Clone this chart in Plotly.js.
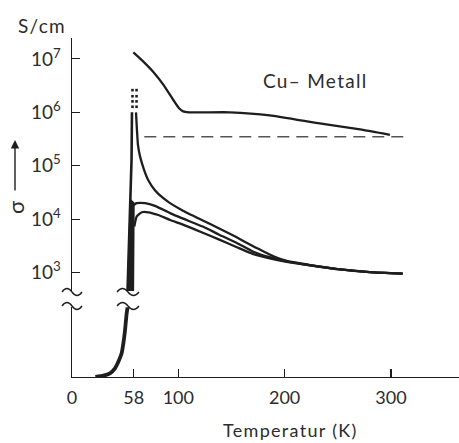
<!DOCTYPE html>
<html>
<head>
<meta charset="utf-8">
<script src="https://cdn.plot.ly/plotly-3.0.1.min.js"></script>
<style>
html,body{margin:0;padding:0;background:#fff;}
#chart{width:459px;height:443px;}
text.annotation-text{letter-spacing:1.3px;}
</style>
</head>
<body>
<div id="chart"></div>
<script>
// ---- data (temperature in K, conductivity in S/cm) ----
const xTickVals = [0, 58, 100, 200, 300];
const xTickText = ['0', '58', '100', '200', '300'];
const yTickVals = [1e3, 1e4, 1e5, 1e6, 1e7];
const yTickText = ['10<sup>3</sup>', '10<sup>4</sup>', '10<sup>5</sup>', '10<sup>6</sup>', '10<sup>7</sup>'];

const cuT = [57.7, 67.1, 76.5, 85.9, 95.3, 100.5, 104.5, 110, 148.6, 186, 233, 271, 299];
const cuSigma = [1.32e7, 8.9e6, 5.7e6, 3.3e6, 1.7e6, 1.2e6, 1.04e6, 1.0e6, 1.0e6, 8.8e5, 6.2e5, 4.8e5, 3.8e5];

const refT = [68, 313];
const refSigma = [3.5e5, 3.5e5];

// steep rise below the transition (upper, log part)
const riseLT = [52.2, 53.6, 55.0, 56.0, 56.4];
const riseLSigma = [440, 2700, 2.3e4, 1.3e5, 1.0e6];
const riseRT = [57.7, 57.8, 58.3, 58.3];
const riseRSigma = [440, 2700, 1.1e4, 2.0e4];

// three sample curves above 58 K
const aT = [60.2, 61.1, 62.1, 64, 67.7, 71.5, 78, 85.6, 92.2, 103.5, 123, 138, 154, 170, 181, 190, 202, 224, 250, 280, 311];
const aSigma = [1.0e6, 4.6e5, 2.4e5, 1.5e5, 8.5e4, 5.5e4, 3.5e4, 2.5e4, 2.0e4, 1.48e4, 9500, 6800, 4700, 3150, 2450, 2000, 1660, 1390, 1170, 1030, 960];
const bT = [56.2, 60.9, 68.7, 78.1, 87.5, 92.2, 103.2, 123, 138, 155, 170, 186, 202, 224, 250, 280, 311];
const bSigma = [1.74e4, 2.0e4, 2.0e4, 1.78e4, 1.45e4, 1.3e4, 1.05e4, 7300, 5200, 3600, 2500, 1950, 1630, 1380, 1170, 1030, 960];
const cT = [58.6, 60.9, 65.6, 71.8, 81.2, 92.2, 103.2, 123, 138, 155, 170, 186, 202, 224, 250, 280, 311];
const cSigma = [7300, 1.13e4, 1.35e4, 1.35e4, 1.2e4, 9700, 8100, 5600, 4200, 3000, 2250, 1850, 1600, 1375, 1165, 1030, 960];

// dotted continuation above the peak (one column per spike edge)
const dotT = [56.9, 60.7];
const dotSigma = [1.27e6, 1.6e6, 2.0e6, 2.6e6];

// low-temperature part (linear, below the axis break)
const lowT = [22, 29.5, 35.7, 40.4, 43.6, 46.7, 48.3, 49.9, 51.4, 52.6];
const lowSigma = [0, 13, 37, 87, 153, 237, 337, 470, 637, 720];

// ---- layout helpers ----
const L = 72, TOP = 38, W = 387, H = 339;
const px = x => (x - L) / W;
const py = y => 1 - (y - TOP) / H;
const ink = '#1e1e1e';
const txt = '#2c2c2c';
const FONT = "Lato, 'DejaVu Sans', sans-serif";

const traces = [];
const line = (x, y, ya, w, extra) => Object.assign({
  type: 'scatter', mode: 'lines', x: x, y: y, xaxis: 'x', yaxis: ya,
  line: {color: ink, width: w, shape: 'spline', smoothing: 0.5}, hoverinfo: 'skip', showlegend: false
}, extra || {});

traces.push(line(cuT, cuSigma, 'y', 2.3));
traces.push(line(refT, refSigma, 'y', 1.4, {line: {color: '#555', width: 1.4, dash: '12px,7px'}}));
// filled band of the rise
traces.push({
  type: 'scatter', mode: 'lines', xaxis: 'x', yaxis: 'y',
  x: riseLT.slice(0, 3).concat(riseRT.slice().reverse()),
  y: riseLSigma.slice(0, 3).concat(riseRSigma.slice().reverse()),
  fill: 'toself', fillcolor: ink, line: {color: ink, width: 1.5}, hoverinfo: 'skip', showlegend: false
});
traces.push(line(riseLT, riseLSigma, 'y', 2.6, {line: {color: ink, width: 2.6}}));
traces.push(line(aT, aSigma, 'y', 2.3));
traces.push(line(bT, bSigma, 'y', 2.3));
traces.push(line(cT, cSigma, 'y', 2.3));
dotT.forEach(t => traces.push({
  type: 'scatter', mode: 'markers', xaxis: 'x', yaxis: 'y',
  x: dotSigma.map(() => t), y: dotSigma,
  marker: {symbol: 'square', size: 2.6, color: ink, line: {width: 0}},
  hoverinfo: 'skip', showlegend: false
}));
traces.push(line(lowT, lowSigma, 'y2', 3.8));

// axis break squiggles
const squiggle = (cx, y, w) => {
  const x0 = cx - w / 2, a = 3.5;
  const P = (x, yy) => px(x) + ',' + py(yy);
  return {
    type: 'path', xref: 'paper', yref: 'paper', layer: 'above',
    path: 'M' + P(x0, y) + ' Q' + P(x0 + w / 4, y - 2 * a) + ' ' + P(x0 + w / 2, y) +
          ' Q' + P(x0 + 3 * w / 4, y + 2 * a) + ' ' + P(x0 + w, y),
    line: {color: ink, width: 1.3}
  };
};
const shapes = [
  squiggle(72, 292, 20), squiggle(72, 306, 20),
  squiggle(128, 292, 22), squiggle(128, 306, 22)
];

const annotations = [
  {text: 'S/cm', x: px(16), y: py(25), xref: 'paper', yref: 'paper', showarrow: false,
   xanchor: 'left', yanchor: 'middle', font: {family: FONT, size: 19, color: txt}},
  {text: 'Cu– Metall', x: px(261), y: py(80), xref: 'paper', yref: 'paper', showarrow: false,
   xanchor: 'left', yanchor: 'middle', font: {family: FONT, size: 19, color: txt}},
  {text: 'Temperatur (K)', x: px(221), y: py(430), xref: 'paper', yref: 'paper', showarrow: false,
   xanchor: 'left', yanchor: 'middle', font: {family: FONT, size: 18, color: txt}},
  {text: 'σ', x: px(15), y: py(207), xref: 'paper', yref: 'paper', showarrow: false, textangle: -90,
   xanchor: 'center', yanchor: 'middle', font: {family: FONT, size: 22, color: txt}},
  {text: '', x: px(15), y: py(140), xref: 'paper', yref: 'paper', showarrow: true,
   ax: 0, ay: 52, arrowhead: 2, arrowsize: 1.2, arrowwidth: 1.4, arrowcolor: ink}
];

const layout = {
  width: 459, height: 443,
  margin: {l: L, r: 459 - L - W, t: TOP, b: 443 - TOP - H, pad: 0},
  paper_bgcolor: '#fff', plot_bgcolor: '#fff',
  showlegend: false,
  font: {family: FONT, color: txt},
  xaxis: {
    range: [0, 364], anchor: 'y2', showgrid: false, zeroline: false,
    showline: true, linecolor: ink, linewidth: 1.4,
    tickmode: 'array', tickvals: xTickVals, ticktext: xTickText,
    ticks: 'inside', ticklen: 8, tickwidth: 1.2, tickcolor: ink,
    tickfont: {family: FONT, size: 18, color: txt}, ticklabelstandoff: 4
  },
  yaxis: {
    type: 'log', range: [2.66, 7.39], domain: [0.254, 1], anchor: 'x',
    showgrid: false, zeroline: false, showline: true, linecolor: ink, linewidth: 1.4,
    tickmode: 'array', tickvals: yTickVals, ticktext: yTickText,
    ticks: 'inside', ticklen: 8, tickwidth: 1.2, tickcolor: ink,
    tickfont: {family: FONT, size: 19, color: txt}, ticklabelstandoff: 6
  },
  yaxis2: {
    range: [0, 700], domain: [0, 0.206], anchor: 'x',
    showgrid: false, zeroline: false, showline: true, linecolor: ink, linewidth: 1.4,
    showticklabels: false, ticks: ''
  },
  shapes: shapes,
  annotations: annotations
};

Plotly.newPlot('chart', traces, layout, {displayModeBar: false, staticPlot: true});
</script>
</body>
</html>
